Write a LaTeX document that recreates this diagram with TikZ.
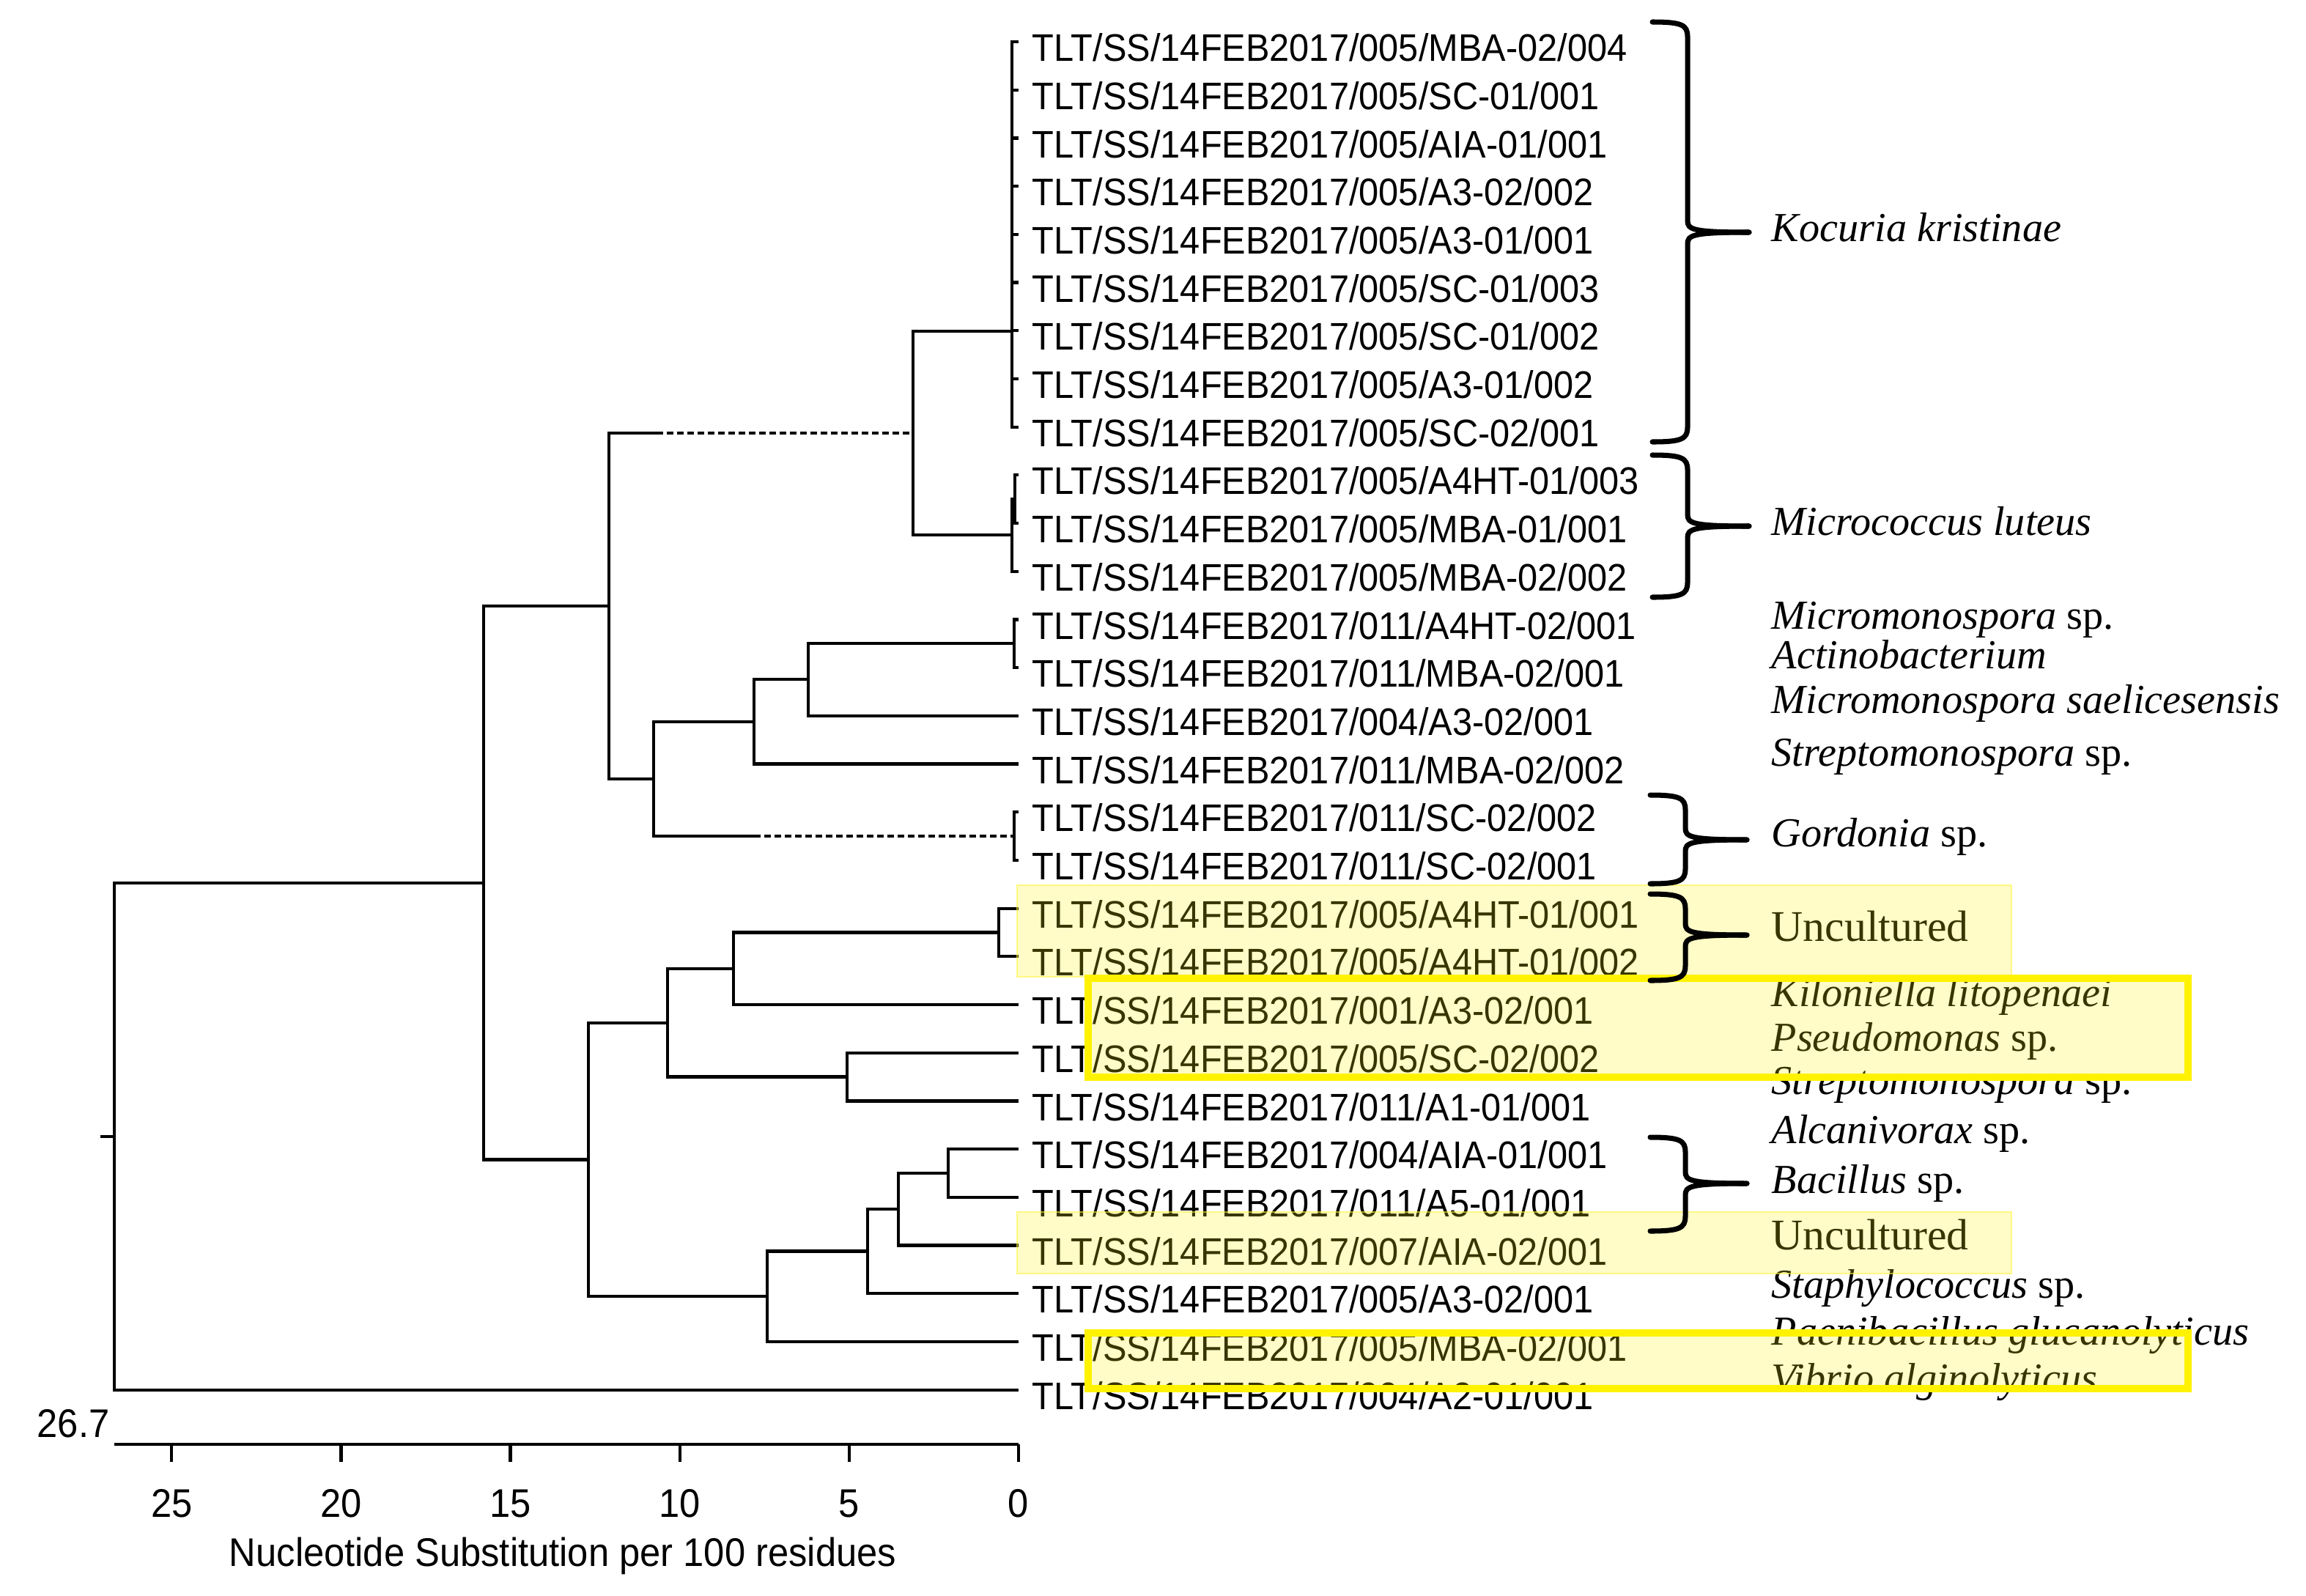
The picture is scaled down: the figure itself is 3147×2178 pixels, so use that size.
\documentclass[tikz,border=0pt]{standalone}
\usepackage{fontspec}
\newfontfamily\leaffont[FakeStretch=0.93]{Liberation Sans}
\newfontfamily\specfont{Liberation Serif}
\newcommand\curlybrace[4]{%
  \draw[bracestyle] ({#1-48},#2) .. controls ({#1-8},#2) and (#1,{#2+4}) .. (#1,{#2+20}) -- (#1,{#3-16}) .. controls (#1,{#3-4}) and ({#1+6},#3) .. ({#1+84},#3);
  \draw[bracestyle] ({#1+84},#3) .. controls ({#1+6},#3) and (#1,{#3+4}) .. (#1,{#3+16}) -- (#1,{#4-20}) .. controls (#1,{#4-4}) and ({#1-8},#4) .. ({#1-48},#4);
}
\begin{document}
\begin{tikzpicture}[x=0.01cm,y=-0.01cm,
  tree/.style={line width=1.2pt,black},
  dashbranch/.style={tree,dash pattern=on 0.09cm off 0.05cm},
  leaf/.style={anchor=west,inner sep=0pt,text height=10.6pt,text depth=0pt,
    font=\leaffont\fontsize{14.9pt}{16pt}\selectfont},
  ticklab/.style={inner sep=0pt,text height=11pt,text depth=0pt,
    font=\leaffont\fontsize{15.5pt}{17pt}\selectfont},
  spec/.style={anchor=west,inner sep=0pt,text height=11.5pt,text depth=4pt,
    font=\specfont\fontsize{16pt}{18pt}\selectfont\itshape},
  uncult/.style={spec,font=\specfont\fontsize{17pt}{19pt}\selectfont},
  lightbox/.style={fill=yellow,fill opacity=0.22,draw=yellow!75!white,draw opacity=0.6,line width=0.8pt},
  brightbox/.style={fill=yellow,fill opacity=0.22,draw=yellow,line width=2.85pt},
  bracestyle/.style={line width=2pt,black,line cap=round}]
\useasboundingbox (0,0) rectangle (3147,2178);

% leaf end points
\coordinate (l1) at (1390,57);
\coordinate (l2) at (1390,122.7);
\coordinate (l3) at (1390,188.4);
\coordinate (l4) at (1390,254.1);
\coordinate (l5) at (1390,319.8);
\coordinate (l6) at (1390,385.5);
\coordinate (l7) at (1390,451.2);
\coordinate (l8) at (1390,516.9);
\coordinate (l9) at (1390,582.6);
\coordinate (l10) at (1390,648.3);
\coordinate (l11) at (1390,714);
\coordinate (l12) at (1390,779.7);
\coordinate (l13) at (1390,845.4);
\coordinate (l14) at (1390,911.1);
\coordinate (l15) at (1390,976.8);
\coordinate (l16) at (1390,1042.5);
\coordinate (l17) at (1390,1108.2);
\coordinate (l18) at (1390,1173.9);
\coordinate (l19) at (1390,1239.6);
\coordinate (l20) at (1390,1305.3);
\coordinate (l21) at (1390,1371);
\coordinate (l22) at (1390,1436.7);
\coordinate (l23) at (1390,1502.4);
\coordinate (l24) at (1390,1568.1);
\coordinate (l25) at (1390,1633.8);
\coordinate (l26) at (1390,1699.5);
\coordinate (l27) at (1390,1765.2);
\coordinate (l28) at (1390,1830.9);
\coordinate (l29) at (1390,1896.6);

% internal nodes
\coordinate (R0) at (137,1550.7);
\coordinate (R) at (156,1550.7);
\coordinate (E) at (660,1204.8);
\coordinate (A) at (831,827);
\coordinate (dA) at (896,591);
\coordinate (KM) at (1246,591);
\coordinate (Ko) at (1381,452);
\coordinate (Mi) at (1381,730);
\coordinate (Mi1) at (1385,681);
\coordinate (B) at (892,1063);
\coordinate (C) at (1029,985);
\coordinate (D) at (1103,927);
\coordinate (N13) at (1384,878);
\coordinate (dB) at (1029,1141);
\coordinate (Go) at (1384,1141);
\coordinate (F) at (803,1582.5);
\coordinate (G) at (911,1396);
\coordinate (I) at (1001,1322);
\coordinate (UC1) at (1363,1272.5);
\coordinate (J) at (1156,1469.5);
\coordinate (H) at (1047,1769);
\coordinate (K) at (1184,1707.5);
\coordinate (L) at (1226,1650);
\coordinate (M) at (1294,1601);

% branches
\draw[tree] (R0) -- (R);
\draw[tree] (R) |- (E);
\draw[tree] (R) |- (l29);
\draw[tree] (E) |- (A);
\draw[tree] (E) |- (F);
\draw[tree] (A) |- (dA);
\draw[dashbranch] (dA) -- (KM);
\draw[tree] (A) |- (B);
\draw[tree] (KM) |- (Ko);
\draw[tree] (KM) |- (Mi);
\foreach \n in {1,...,9} {\draw[tree] (Ko) |- (l\n);}
\draw[tree] (Mi) |- (Mi1);
\draw[tree] (Mi) |- (l12);
\draw[tree] (Mi1) |- (l10);
\draw[tree] (Mi1) |- (l11);
\draw[tree] (B) |- (C);
\draw[tree] (B) |- (dB);
\draw[dashbranch] (dB) -- (Go);
\draw[tree] (Go) |- (l17);
\draw[tree] (Go) |- (l18);
\draw[tree] (C) |- (D);
\draw[tree] (C) |- (l16);
\draw[tree] (D) |- (N13);
\draw[tree] (D) |- (l15);
\draw[tree] (N13) |- (l13);
\draw[tree] (N13) |- (l14);
\draw[tree] (F) |- (G);
\draw[tree] (F) |- (H);
\draw[tree] (G) |- (I);
\draw[tree] (G) |- (J);
\draw[tree] (I) |- (UC1);
\draw[tree] (I) |- (l21);
\draw[tree] (UC1) |- (l19);
\draw[tree] (UC1) |- (l20);
\draw[tree] (J) |- (l22);
\draw[tree] (J) |- (l23);
\draw[tree] (H) |- (K);
\draw[tree] (H) |- (l28);
\draw[tree] (K) |- (L);
\draw[tree] (K) |- (l27);
\draw[tree] (L) |- (M);
\draw[tree] (L) |- (l26);
\draw[tree] (M) |- (l24);
\draw[tree] (M) |- (l25);

% leaf labels
\node[leaf] (t1) at (1408,65) {TLT/SS/14FEB2017/005/MBA-02/004};
\node[leaf] (t2) at (1408,130.7) {TLT/SS/14FEB2017/005/SC-01/001};
\node[leaf] (t3) at (1408,196.4) {TLT/SS/14FEB2017/005/AIA-01/001};
\node[leaf] (t4) at (1408,262.1) {TLT/SS/14FEB2017/005/A3-02/002};
\node[leaf] (t5) at (1408,327.8) {TLT/SS/14FEB2017/005/A3-01/001};
\node[leaf] (t6) at (1408,393.5) {TLT/SS/14FEB2017/005/SC-01/003};
\node[leaf] (t7) at (1408,459.2) {TLT/SS/14FEB2017/005/SC-01/002};
\node[leaf] (t8) at (1408,524.9) {TLT/SS/14FEB2017/005/A3-01/002};
\node[leaf] (t9) at (1408,590.6) {TLT/SS/14FEB2017/005/SC-02/001};
\node[leaf] (t10) at (1408,656.3) {TLT/SS/14FEB2017/005/A4HT-01/003};
\node[leaf] (t11) at (1408,722) {TLT/SS/14FEB2017/005/MBA-01/001};
\node[leaf] (t12) at (1408,787.7) {TLT/SS/14FEB2017/005/MBA-02/002};
\node[leaf] (t13) at (1408,853.4) {TLT/SS/14FEB2017/011/A4HT-02/001};
\node[leaf] (t14) at (1408,919.1) {TLT/SS/14FEB2017/011/MBA-02/001};
\node[leaf] (t15) at (1408,984.8) {TLT/SS/14FEB2017/004/A3-02/001};
\node[leaf] (t16) at (1408,1050.5) {TLT/SS/14FEB2017/011/MBA-02/002};
\node[leaf] (t17) at (1408,1116.2) {TLT/SS/14FEB2017/011/SC-02/002};
\node[leaf] (t18) at (1408,1181.9) {TLT/SS/14FEB2017/011/SC-02/001};
\node[leaf] (t19) at (1408,1247.6) {TLT/SS/14FEB2017/005/A4HT-01/001};
\node[leaf] (t20) at (1408,1313.3) {TLT/SS/14FEB2017/005/A4HT-01/002};
\node[leaf] (t21) at (1408,1379) {TLT/SS/14FEB2017/001/A3-02/001};
\node[leaf] (t22) at (1408,1444.7) {TLT/SS/14FEB2017/005/SC-02/002};
\node[leaf] (t23) at (1408,1510.4) {TLT/SS/14FEB2017/011/A1-01/001};
\node[leaf] (t24) at (1408,1576.1) {TLT/SS/14FEB2017/004/AIA-01/001};
\node[leaf] (t25) at (1408,1641.8) {TLT/SS/14FEB2017/011/A5-01/001};
\node[leaf] (t26) at (1408,1707.5) {TLT/SS/14FEB2017/007/AIA-02/001};
\node[leaf] (t27) at (1408,1773.2) {TLT/SS/14FEB2017/005/A3-02/001};
\node[leaf] (t28) at (1408,1838.9) {TLT/SS/14FEB2017/005/MBA-02/001};
\node[leaf] (t29) at (1408,1904.6) {TLT/SS/14FEB2017/004/A2-01/001};

% species labels
\node[spec] (s1) at (2417,316) {Kocuria kristinae};
\node[spec] (s2) at (2417,717) {Micrococcus luteus};
\node[spec] (s3) at (2417,845) {Micromonospora \upshape sp.};
\node[spec] (s4) at (2417,899) {Actinobacterium};
\node[spec] (s5) at (2417,960) {Micromonospora saelicesensis};
\node[spec] (s6) at (2417,1032) {Streptomonospora \upshape sp.};
\node[spec] (s7) at (2417,1142) {Gordonia \upshape sp.};
\node[uncult] (s8) at (2417,1271) {Uncultured};
\node[spec] (s9) at (2417,1360) {Kiloniella litopenaei};
\node[spec] (s10) at (2417,1421) {Pseudomonas \upshape sp.};
\node[spec] (s11) at (2417,1480) {Streptomonospora \upshape sp.};
\node[spec] (s12) at (2417,1547) {Alcanivorax \upshape sp.};
\node[spec] (s13) at (2417,1615) {Bacillus \upshape sp.};
\node[uncult] (s14) at (2417,1692) {Uncultured};
\node[spec] (s15) at (2417,1758) {Staphylococcus \upshape sp.};
\node[spec] (s16) at (2417,1822) {Paenibacillus glucanolyticus};
\node[spec] (s17) at (2417,1886) {Vibrio alginolyticus};

% highlight boxes
\path[lightbox] (1388,1208) rectangle (2745,1333);
\path[brightbox] (1485,1335) rectangle (2986,1470);
\path[lightbox] (1388,1654) rectangle (2745,1738);
\path[brightbox] (1485,1819) rectangle (2986,1895);

% braces
\curlybrace{2303}{30}{317}{603}
\curlybrace{2303}{621}{718}{815}
\curlybrace{2300}{1085}{1146}{1206}
\curlybrace{2300}{1220}{1276}{1338}
\curlybrace{2300}{1552}{1615}{1680}

% scale axis
\coordinate (ax0) at (156,1971);
\coordinate (ax1) at (1390,1971);
\draw[tree] (ax0) -- (ax1);
\foreach \xx in {234.3,465.4,696.5,927.7,1158.9,1390} {\draw[tree] (\xx,1971) -- (\xx,1995);}
\node[ticklab] (k25) at (234.3,2051) {25};
\node[ticklab] (k20) at (465.4,2051) {20};
\node[ticklab] (k15) at (696.5,2051) {15};
\node[ticklab] (k10) at (927.7,2051) {10};
\node[ticklab] (k5) at (1158.9,2051) {5};
\node[ticklab] (k0) at (1390,2051) {0};
\node[ticklab,anchor=east] (root) at (150,1942) {26.7};
\node[ticklab,font=\leaffont\fontsize{15.5pt}{17pt}\selectfont] (title) at (768,2118) {Nucleotide Substitution per 100 residues};
\end{tikzpicture}
\end{document}
